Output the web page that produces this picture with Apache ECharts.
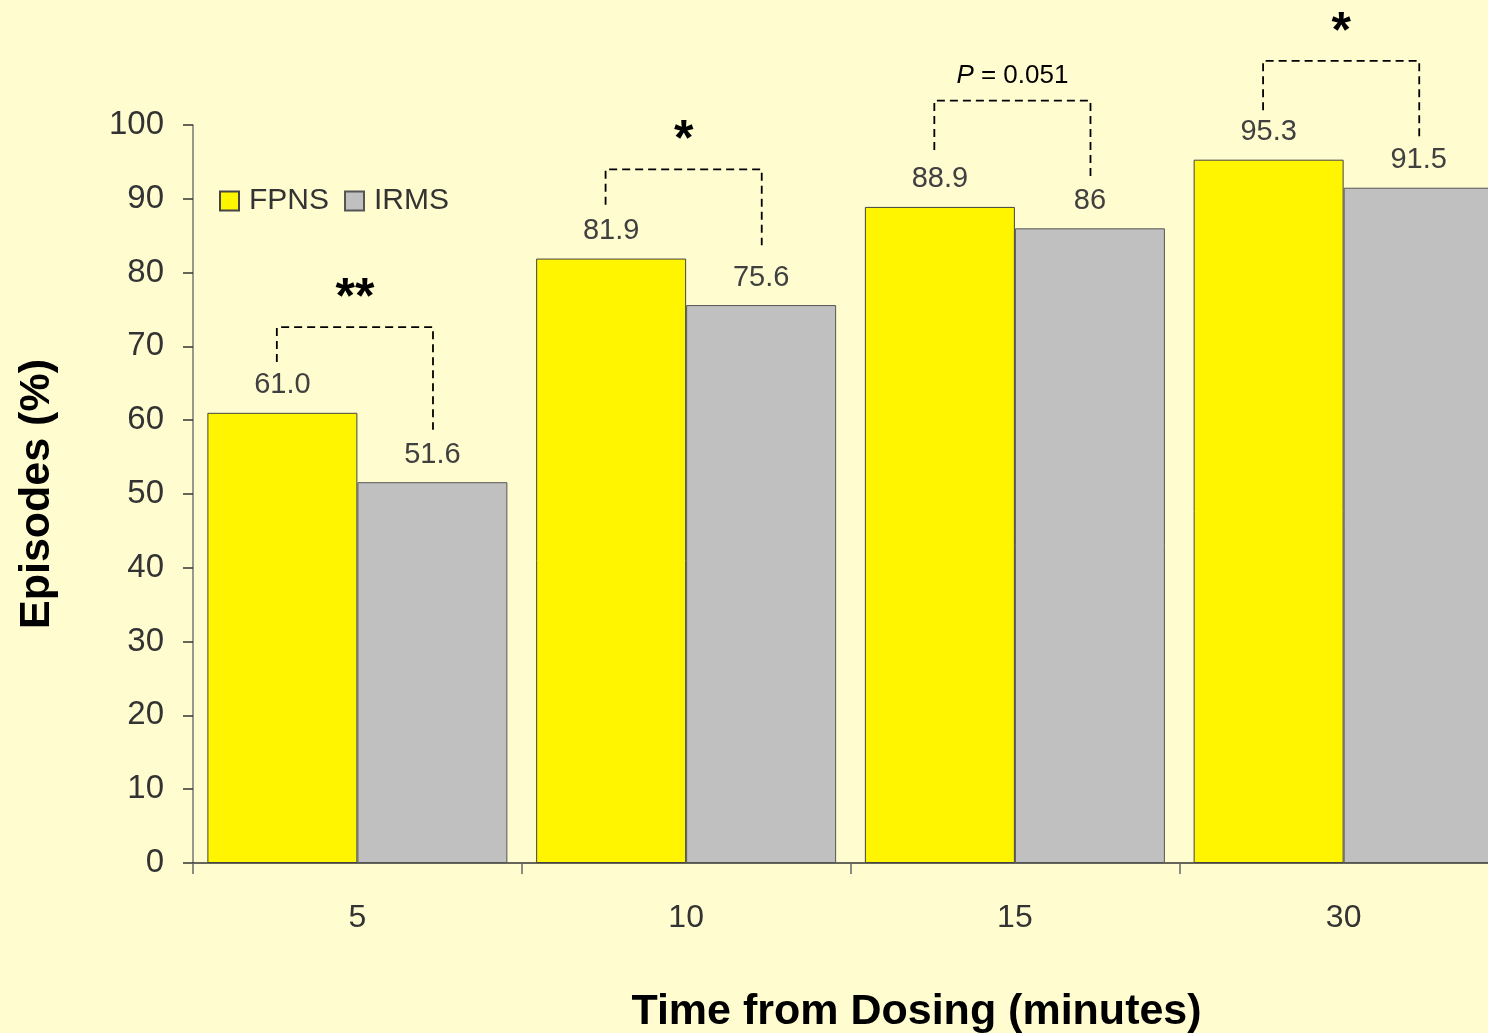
<!DOCTYPE html>
<html>
<head>
<meta charset="utf-8">
<script src="https://cdn.jsdelivr.net/npm/echarts@6/dist/echarts.min.js"></script>
<style>
html,body{margin:0;padding:0;background:#FFFCD0;overflow:hidden;}
#main{width:1520px;height:1033px;}
</style>
</head>
<body>
<div id="main"></div>
<script>
// ---- data ----
const categories = ['5', '10', '15', '30'];
const fpns = [61.0, 81.9, 88.9, 95.3];
const irms = [51.6, 75.6, 86, 91.5];
const fpnsLabels = ['61.0', '81.9', '88.9', '95.3'];
const irmsLabels = ['51.6', '75.6', '86', '91.5'];
const sigLabels = ['**', '*', 'P = 0.051', '*'];
const bracketTop = [72.6, 94.0, 103.3, 108.7];
const bracketLeftEnd = [67.9, 89.2, 96.6, 102.0];
const bracketRightEnd = [58.7, 83.7, 92.8, 97.9];

const chart = echarts.init(document.getElementById('main'), null, {renderer: 'canvas'});

const bracketData = categories.map((c, i) => [i, bracketTop[i], bracketLeftEnd[i], bracketRightEnd[i]]);

const option = {
  backgroundColor: '#FFFCD0',
  animation: false,
  grid: {left: 193, top: 125, width: 1315, height: 738, containLabel: false, outerBoundsMode: 'none'},
  legend: {
    data: ['FPNS', 'IRMS'],
    left: 214, top: 181,
    icon: 'rect', itemWidth: 19, itemHeight: 19, itemGap: 15,
    textStyle: {fontFamily: 'Liberation Sans, Arial', fontSize: 30, color: '#333', padding: [0, 0, 0, 5]}
  },
  xAxis: {
    type: 'category',
    data: categories,
    axisLine: {lineStyle: {color: '#333', width: 1.5}},
    axisTick: {show: true, length: 11, lineStyle: {color: '#666', width: 1.5}},
    axisLabel: {margin: 39, fontFamily: 'Liberation Sans, Arial', fontSize: 32, color: '#333'},
    name: 'Time from Dosing (minutes)',
    nameLocation: 'middle',
    nameGap: 128,
    nameTextStyle: {fontFamily: 'Liberation Sans, Arial', fontSize: 43, fontWeight: 'bold', color: '#000', padding: [0, 0, 0, 132]}
  },
  yAxis: {
    type: 'value',
    min: 0, max: 100, interval: 10,
    splitLine: {show: false},
    axisLine: {show: true, lineStyle: {color: '#777', width: 1.5}},
    axisTick: {show: true, length: 10, lineStyle: {color: '#333', width: 1.5}},
    axisLabel: {margin: 29, fontFamily: 'Liberation Sans, Arial', fontSize: 33, color: '#333'},
    name: 'Episodes (%)',
    nameLocation: 'middle',
    nameRotate: 90,
    nameGap: 134,
    nameTextStyle: {fontFamily: 'Liberation Sans, Arial', fontSize: 43, fontWeight: 'bold', color: '#000'}
  },
  series: [
    {
      name: 'FPNS', type: 'bar', data: fpns, barWidth: 150, barGap: '0%',
      itemStyle: {color: '#FFF500', borderColor: '#444', borderWidth: 1},
      label: {show: true, position: 'top', distance: 13, fontFamily: 'Liberation Sans, Arial', fontSize: 29, color: '#404040',
        formatter: p => fpnsLabels[p.dataIndex]}
    },
    {
      name: 'IRMS', type: 'bar', data: irms, barWidth: 150,
      itemStyle: {color: '#C0C0C0', borderColor: '#555', borderWidth: 1},
      label: {show: true, position: 'top', distance: 13, fontFamily: 'Liberation Sans, Arial', fontSize: 29, color: '#404040',
        formatter: p => irmsLabels[p.dataIndex]}
    },
    {
      name: 'sig', type: 'custom', silent: true, clip: false, z: 10,
      data: bracketData,
      encode: {x: 0, y: 1},
      renderItem: function (params, api) {
        const idx = api.value(0);
        const top = api.coord([idx, api.value(1)]);
        const yl = api.coord([idx, api.value(2)])[1];
        const yr = api.coord([idx, api.value(3)])[1];
        const cw = api.size([1, 0])[0];
        const cx = top[0];
        const xl = cx - 0.245 * cw;
        const xr = cx + 0.23 * cw;
        const lab = sigLabels[params.dataIndex];
        const isP = lab.startsWith('P');
        const textEl = isP ? {
          type: 'text',
          style: {
            text: '{i|P} = 0.051',
            x: (xl + xr) / 2, y: top[1] - 25,
            align: 'center', verticalAlign: 'middle',
            fontFamily: 'Liberation Sans, Arial', fontSize: 26, fill: '#000',
            rich: {i: {fontStyle: 'italic', fontFamily: 'Liberation Sans, Arial', fontSize: 26, fill: '#000'}}
          }
        } : {
          type: 'text',
          style: {
            text: lab,
            x: (xl + xr) / 2, y: top[1] - 28,
            align: 'center', verticalAlign: 'middle',
            fontFamily: 'Liberation Sans, Arial', fontSize: 50, fontWeight: 'bold', fill: '#000'
          }
        };
        return {
          type: 'group',
          children: [
            {
              type: 'polyline',
              shape: {points: [[xl, yl], [xl, top[1]], [xr, top[1]], [xr, yr]]},
              style: {stroke: '#000', lineWidth: 1.8, lineDash: [8, 5], fill: null}
            },
            textEl
          ]
        };
      }
    }
  ]
};
chart.setOption(option);
</script>
</body>
</html>
